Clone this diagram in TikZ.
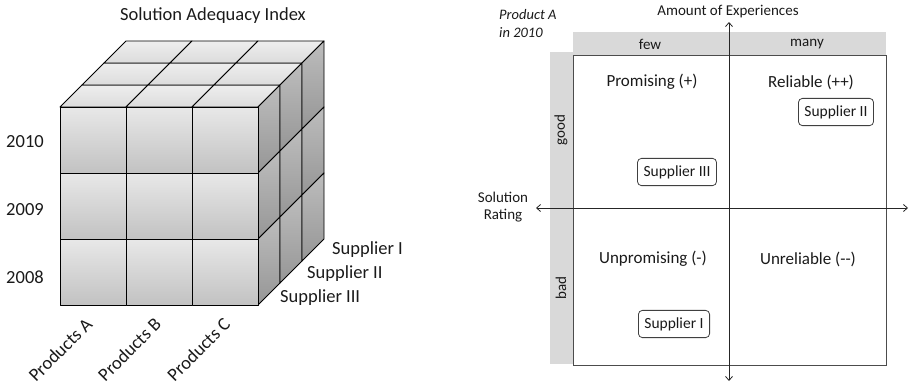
\documentclass[tikz,border=0pt]{standalone}
\usepackage{fontspec}
\setmainfont{Carlito}
\usetikzlibrary{arrows.meta}
\definecolor{frontT}{HTML}{E8E8E8}
\definecolor{frontB}{HTML}{C2C2C2}
\definecolor{sideT}{HTML}{BDBDBD}
\definecolor{sideB}{HTML}{969696}
\definecolor{topT}{HTML}{EEEEEE}
\definecolor{topB}{HTML}{DCDCDC}
\definecolor{barg}{HTML}{D9D9D9}
\definecolor{txt}{HTML}{1A1A1A}
\tikzset{
  cell/.style={draw=black, line width=0.9pt, line join=round},
  lbl/.style={text=txt, inner sep=0pt, font=\fontsize{18.5}{20}\selectfont},
  qlbl/.style={text=txt, inner sep=0pt, font=\fontsize{17}{19}\selectfont},
  slbl/.style={text=txt, inner sep=0pt, font=\fontsize{15}{17}\selectfont},
  supbox/.style={draw=black!75, rounded corners=4pt, line width=0.8pt, fill=white, text=txt,
    inner xsep=6pt, inner ysep=7pt, font=\fontsize{15.5}{17}\selectfont},
  axis/.style={draw=black!85, line width=0.8pt, {Straight Barb[length=4pt,width=7pt]}-{Straight Barb[length=4pt,width=7pt]}},
}
\begin{document}
\begin{tikzpicture}[x=1pt,y=-1pt]
\useasboundingbox (0,0) rectangle (909,384);
% ---------- Cube ----------
\node[lbl] (title) at (213,16) {Solution Adequacy Index};
% top face
\foreach \i in {0,1,2}{
  \foreach \j in {0,1,2}{
    \shade[cell, top color=topT, bottom color=topB]
      ({60+66*\i+22*\j},{107-22*\j}) -- ({126+66*\i+22*\j},{107-22*\j})
      -- ({148+66*\i+22*\j},{85-22*\j}) -- ({82+66*\i+22*\j},{85-22*\j}) -- cycle;
  }
}
% right side face
\foreach \k in {0,1,2}{
  \foreach \j in {0,1,2}{
    \shade[cell, top color=sideT, bottom color=sideB]
      ({258+22*\j},{107+66*\k-22*\j}) -- ({280+22*\j},{85+66*\k-22*\j})
      -- ({280+22*\j},{151+66*\k-22*\j}) -- ({258+22*\j},{173+66*\k-22*\j}) -- cycle;
  }
}
% front face
\foreach \i in {0,1,2}{
  \foreach \k in {0,1,2}{
    \shade[cell, top color=frontT, bottom color=frontB]
      ({60+66*\i},{107+66*\k}) rectangle ({126+66*\i},{173+66*\k});
  }
}
\node[lbl] (y2010) at (25,142) {2010};
\node[lbl] (y2009) at (25,210) {2009};
\node[lbl] (y2008) at (25,277) {2008};
\node[lbl, anchor=west] (s1) at (332,250) {Supplier I};
\node[lbl, anchor=west] (s2) at (307,274) {Supplier II};
\node[lbl, anchor=west] (s3) at (280,298) {Supplier III};
\node[lbl, rotate=45, anchor=east] (pa) at (89,321) {Products A};
\node[lbl, rotate=45, anchor=east] (pb) at (158,321) {Products B};
\node[lbl, rotate=45, anchor=east] (pc) at (227,321) {Products C};
% ---------- Portfolio ----------
\fill[barg] (573,32) rectangle (886,55);
\fill[barg] (550,52) rectangle (573,364);
\draw[black!70, line width=0.8pt] (573,55) rectangle (886,365);
\node[slbl, font=\fontsize{14.5}{16}\selectfont\itshape, anchor=west] (prod) at (499,15) {Product A};
\node[slbl, font=\fontsize{14.5}{16}\selectfont\itshape, anchor=west] (yr) at (499,33) {in 2010};
\node[slbl] (amount) at (728,12) {Amount of Experiences};
\node[slbl] (few) at (650,44) {few};
\node[slbl] (many) at (807,44) {many};
\node[slbl, rotate=90] (good) at (561,130) {good};
\node[slbl, rotate=90] (bad) at (561,288) {bad};
\node[slbl, align=center] (rating) at (503,207) {Solution\\Rating};
\coordinate (vtop) at (729,22);
\coordinate (vbot) at (729,381);
\coordinate (hl) at (536,208);
\coordinate (hr) at (908,208);
\draw[axis] (vtop) -- (vbot);
\draw[axis] (hl) -- (hr);
\node[qlbl] (prom) at (652,82) {Promising (+)};
\node[qlbl] (rel) at (811,82) {Reliable (++)};
\node[qlbl] (unprom) at (653,259) {Unpromising (-)};
\node[qlbl] (unrel) at (808,259) {Unreliable (-{}-)};
\node[supbox] (sII) at (836,112) {Supplier II};
\node[supbox] (sIII) at (677,172) {Supplier III};
\node[supbox] (sI) at (674,324) {Supplier I};
\end{tikzpicture}
\end{document}
